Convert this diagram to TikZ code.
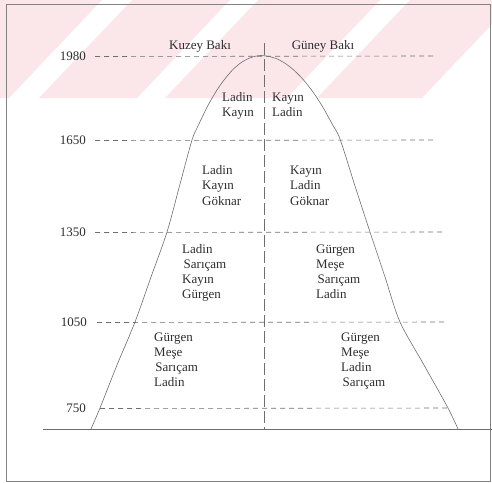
\documentclass[tikz,border=0pt]{standalone}
\usepackage{fontspec}
\setmainfont{Liberation Serif}
\definecolor{wm}{RGB}{251,230,234}
\definecolor{ln}{RGB}{110,110,110}
\definecolor{fr}{RGB}{130,130,130}
\definecolor{tx}{RGB}{45,45,45}
\begin{document}
\begin{tikzpicture}[x=1pt,y=-1pt,
  lbl/.style={font=\fontsize{13}{15}\selectfont, text=tx, inner sep=0pt, anchor=base west},
  hdr/.style={font=\fontsize{13}{15}\selectfont, text=tx, inner sep=0pt, anchor=base},
  yr/.style={font=\fontsize{13}{15}\selectfont, text=tx, inner sep=0pt, anchor=east},
  lvl/.style={draw=ln, line width=0.6pt, dash pattern=on 5pt off 4pt},
  solidln/.style={draw=ln, line width=0.6pt},
  axisln/.style={draw=ln, line width=0.6pt, dash pattern=on 12pt off 4pt},
]
\useasboundingbox (0,0) rectangle (492,482);
% watermark band
\begin{scope}
\clip (0,0) rectangle (492,98);
\fill[wm] (0,0) -- (102,0) -- (9,98) -- (0,98) -- cycle;
\fill[wm] (132,0) -- (230,0) -- (137,98) -- (39,98) -- cycle;
\fill[wm] (258,0) -- (380,0) -- (287,98) -- (165,98) -- cycle;
\fill[wm] (410,0) -- (515,0) -- (422,98) -- (317,98) -- cycle;
\end{scope}
% frame
\draw[fr, line width=0.8pt] (6,4) rectangle (490,481);
% ground and axis
\coordinate (g1) at (43,429);
\coordinate (g2) at (492,429);
\draw[solidln] (g1) -- (g2);
\coordinate (ctop) at (264,43);
\coordinate (cbot) at (264,429);
\draw[axisln] (ctop) -- (cbot);
% headers
\node[hdr] (kb) at (200,49) {Kuzey Bakı};
\node[hdr] (gb) at (323,49) {Güney Bakı};
% altitude levels
\node[yr] (y1980) at (86,56.5) {1980};
\node[yr] (y1650) at (86,140.5) {1650};
\node[yr] (y1350) at (86,232.5) {1350};
\node[yr] (y1050) at (87,322.5) {1050};
\node[yr] (y750)  at (86,408.5) {750};
\coordinate (e1980) at (433,56);
\coordinate (e1650) at (433,140);
\coordinate (e1350) at (443,232);
\coordinate (e1050) at (447,322);
\coordinate (e750)  at (450,408);
\draw[lvl] ([xshift=9pt]y1980.east) -- (e1980);
\draw[lvl] ([xshift=9pt]y1650.east) -- (e1650);
\draw[lvl] ([xshift=9pt]y1350.east) -- (e1350);
\draw[lvl] ([xshift=10pt]y1050.east) -- (e1050);
\draw[lvl] ([xshift=14pt]y750.east) -- (e750);
% mountain profile
\draw[solidln] plot[smooth, tension=0.5] coordinates {(91,429) (100,408) (117,365) (135,322) (151,277) (167,232) (179.5,186) (192,140) (198.5,125) (205.6,110) (211,100) (217,90) (224,80) (232.5,70) (240.5,63) (248,58.7) (255,56.3) (261,55.5) (268,56.3) (276,58.5) (284.6,63) (293.7,70) (303.6,80) (311.5,90) (318.4,100) (324.5,110) (332.7,125) (340,139) (355,186) (370,232) (385,277) (400,322) (424,365) (448,408) (458,429)};
% species lists
\foreach \dx/\t [count=\i] in {0/Ladin,0/Kayın}
  \node[lbl] (a\i) at (222+\dx,{101+15*(\i-1)}) {\t};
\foreach \dx/\t [count=\i] in {0/Kayın,0/Ladin}
  \node[lbl] (b\i) at (272+\dx,{101+15*(\i-1)}) {\t};
\foreach \dx/\t [count=\i] in {0/Ladin,0/Kayın,0/Göknar}
  \node[lbl] (c\i) at (202+\dx,{174+15.5*(\i-1)}) {\t};
\foreach \dx/\t [count=\i] in {0/Kayın,0/Ladin,0/Göknar}
  \node[lbl] (d\i) at (290+\dx,{174+15.5*(\i-1)}) {\t};
\foreach \dx/\t [count=\i] in {0/Ladin,1.5/Sarıçam,0/Kayın,0/Gürgen}
  \node[lbl] (e\i) at (182+\dx,{253+15*(\i-1)}) {\t};
\foreach \dx/\t [count=\i] in {0/Gürgen,0/Meşe,1.5/Sarıçam,0/Ladin}
  \node[lbl] (f\i) at (316+\dx,{253+15*(\i-1)}) {\t};
\foreach \dx/\t [count=\i] in {0/Gürgen,0/Meşe,1.2/Sarıçam,0/Ladin}
  \node[lbl] (g\i) at (154+\dx,{341+15.3*(\i-1)}) {\t};
\foreach \dx/\t [count=\i] in {0/Gürgen,0/Meşe,0/Ladin,1.5/Sarıçam}
  \node[lbl] (h\i) at (341+\dx,{341+15.3*(\i-1)}) {\t};
\end{tikzpicture}
\end{document}
